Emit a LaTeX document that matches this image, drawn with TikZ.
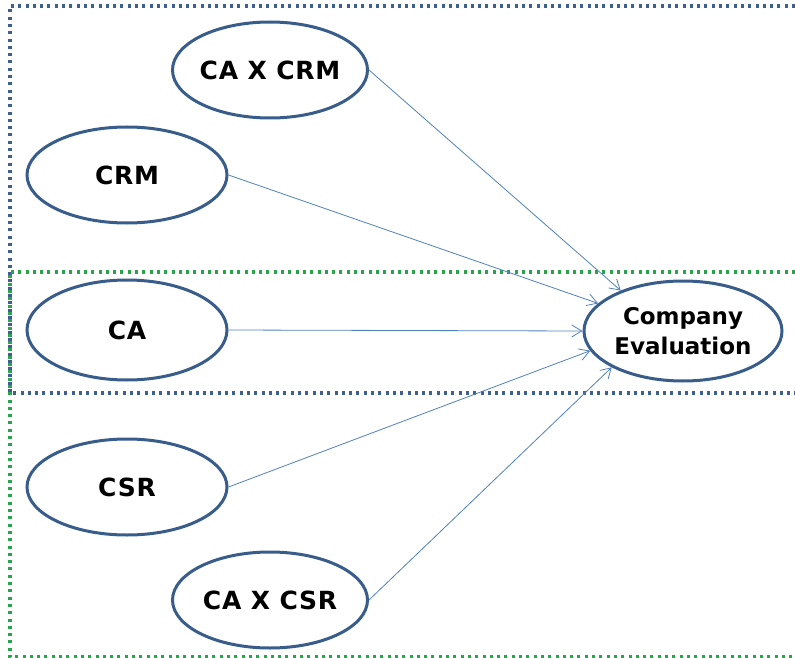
\documentclass[tikz,border=0pt]{standalone}
\usepackage{fontspec}
\setsansfont{DejaVu Sans}
\usepackage{tikz}
\usetikzlibrary{arrows.meta,shapes.geometric}
\definecolor{ovalblue}{RGB}{56,93,138}
\definecolor{arrowblue}{RGB}{79,129,189}
\definecolor{dotblue}{RGB}{62,96,145}
\definecolor{dotgreen}{RGB}{40,165,75}
\tikzset{
  base/.style={font=\sffamily\bfseries\fontsize{25}{30}\selectfont\addfontfeatures{LetterSpace=3}, align=center, text=black},
  oval/.style={base, ellipse, draw=ovalblue, fill=white, line width=3pt, inner xsep=-12pt, inner ysep=0pt, minimum width=200pt, minimum height=96pt},
  arr/.style={-{Straight Barb[length=10pt,width=12pt]}, line width=0.8pt, draw=arrowblue},
  zone/.style={draw=#1, line width=3.2pt, dash pattern=on 3pt off 4.3pt},
}
\begin{document}
\begin{tikzpicture}[x=1pt,y=-1pt]
  \useasboundingbox (0,0) rectangle (795,658);
  % groups
  \draw[zone=dotblue] (795,6) -- (10,6) -- (10,393) -- (795,393);
  \draw[zone=dotgreen] (795,272) -- (10,272) -- (10,657) -- (795,657);
  % constructs
  \node[oval,minimum width=195pt] (caxcrm) at (270,70)  {CA X CRM};
  \node[oval] (crm) at (127,175) {CRM};
  \node[oval,minimum height=100pt] (ca) at (127,330) {CA};
  \node[oval] (csr) at (127,487) {CSR};
  \node[oval,minimum width=195pt] (caxcsr) at (270,600) {CA X CSR};
  \node[oval,minimum width=198pt,minimum height=100pt,font=\sffamily\bfseries\fontsize{23}{30}\selectfont] (eval) at (683,331) {Company\\Evaluation};
  % paths
  \draw[arr] (caxcrm.east) -- (eval.147);
  \draw[arr] (crm.east) -- (eval.162);
  \draw[arr] (ca.east) -- (eval.west);
  \draw[arr] (csr.east) -- (eval.192);
  \draw[arr] (caxcsr.east) -- (eval.207);
\end{tikzpicture}
\end{document}
